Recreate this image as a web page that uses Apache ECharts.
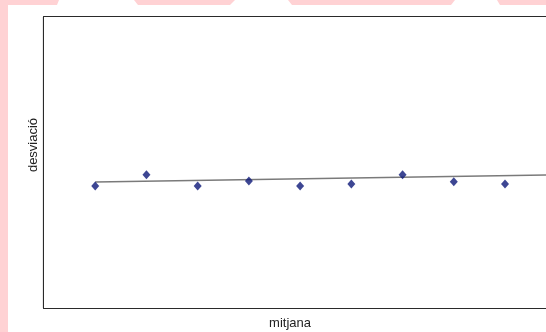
<!DOCTYPE html>
<html>
<head>
<meta charset="utf-8">
<script src="https://cdn.jsdelivr.net/npm/echarts@6/dist/echarts.min.js"></script>
<style>html,body{margin:0;padding:0;background:#fff}#c{width:546px;height:332px}</style>
</head>
<body>
<div id="c"></div>
<script>
var xValues = [1, 2, 3, 4, 5, 6, 7, 8, 9];
var yValues = [4.19, 4.58, 4.19, 4.36, 4.19, 4.26, 4.58, 4.34, 4.26];
var trendX = [1, 9.8];
var trendY = [4.33, 4.57];
var xAxisName = 'mitjana';
var yAxisName = 'desviació';

var chart = echarts.init(document.getElementById('c'), null, {renderer: 'canvas'});
var pink = '#ffd2d4';
var frame = {show: true, onZero: false, lineStyle: {color: '#2a2a2a', width: 2.2}};
var hidden = {axisTick: {show: false}, axisLabel: {show: false}, splitLine: {show: false}};
chart.setOption({
  animation: false,
  backgroundColor: '#fff',
  grid: {left: 44, top: 17, bottom: 24, right: 0, show: true, borderWidth: 0, backgroundColor: '#fff', z: 1},
  xAxis: [
    Object.assign({type: 'value', min: 0, max: 9.8, position: 'bottom', axisLine: frame}, hidden),
    Object.assign({type: 'value', min: 0, max: 9.8, position: 'top', axisLine: frame}, hidden)
  ],
  yAxis: Object.assign({type: 'value', min: 0, max: 10, position: 'left', axisLine: frame}, hidden),
  graphic: [
    {type: 'rect', z: -10, shape: {x: 0, y: 0, width: 8, height: 332}, style: {fill: pink}},
    {type: 'polygon', z: -10, shape: {points: [[0,0],[59,0],[57,5],[0,5]]}, style: {fill: pink}},
    {type: 'polygon', z: -10, shape: {points: [[134,0],[235,0],[230,5],[138,5]]}, style: {fill: pink}},
    {type: 'polygon', z: -10, shape: {points: [[288,0],[455,0],[451,5],[292,5]]}, style: {fill: pink}},
    {type: 'polygon', z: -10, shape: {points: [[497,0],[546,0],[546,5],[500,5]]}, style: {fill: pink}},
    {type: 'text', x: 33, y: 145, rotation: Math.PI / 2, style: {text: yAxisName, fill: '#222', font: '13px "Liberation Sans", Arial, sans-serif', textAlign: 'center', textVerticalAlign: 'middle'}},
    {type: 'text', x: 290, y: 323, style: {text: xAxisName, fill: '#222', font: '13px "Liberation Sans", Arial, sans-serif', textAlign: 'center', textVerticalAlign: 'middle'}}
  ],
  series: [
    {type: 'line', data: trendX.map(function (x, i) { return [x, trendY[i]]; }), symbol: 'none', lineStyle: {color: '#7a7a7a', width: 1.6}, z: 2},
    {type: 'scatter', data: xValues.map(function (x, i) { return [x, yValues[i]]; }), symbol: 'diamond', symbolSize: [8, 9], itemStyle: {color: '#0c1878'}, z: 3}
  ]
});
</script>
</body>
</html>
